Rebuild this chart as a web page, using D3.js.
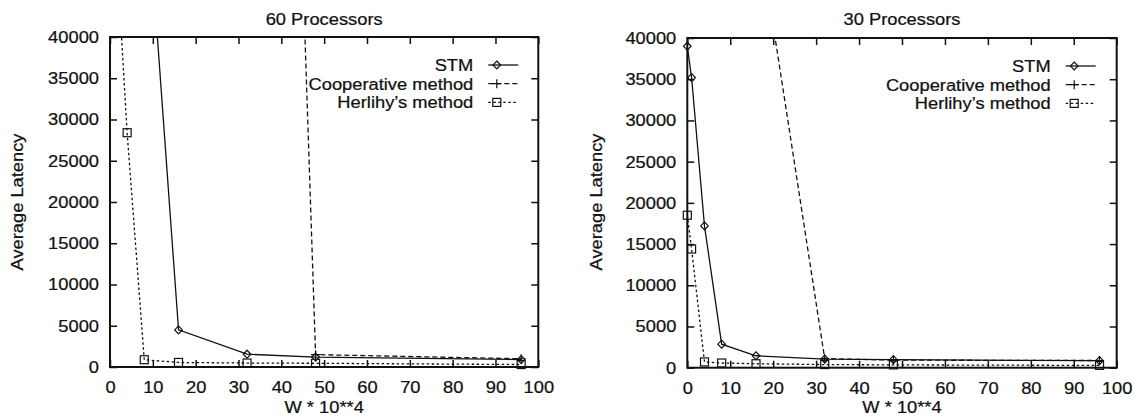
<!DOCTYPE html>
<html>
<head>
<meta charset="utf-8">
<script src="https://cdn.jsdelivr.net/npm/d3@7"></script>
<style>
  html, body { margin: 0; padding: 0; background: #fff; }
  svg text { font-family: "Liberation Sans", Arial, Helvetica, sans-serif; fill: #111; stroke: #111; stroke-width: 0.25; }
</style>
</head>
<body>
<svg id="chart" width="1134" height="418"></svg>
<script>
// x axis ticks / y axis ticks shared by both panels
const xTicks = [0, 10, 20, 30, 40, 50, 60, 70, 80, 90, 100];
const yTicks = [0, 5000, 10000, 15000, 20000, 25000, 30000, 35000, 40000];
const seriesNames = ['STM', 'Cooperative method', "Herlihy\u2019s method"];

// 60 processors (points above 40000 are off the chart, estimated from the slopes)
const stm60X = [8, 16, 32, 48, 96];
const stm60Y = [62000, 4500, 1550, 1200, 900];
const coop60X = [32, 48, 96];
const coop60Y = [250000, 1500, 1000];
const herl60X = [1, 4, 8, 16, 32, 48, 96];
const herl60Y = [55000, 28400, 880, 550, 480, 450, 300];

// 30 processors
const stm30X = [0, 1, 4, 8, 16, 32, 48, 96];
const stm30Y = [39000, 35200, 17200, 2850, 1450, 1050, 970, 850];
const coop30X = [16, 32, 48, 96];
const coop30Y = [55000, 1100, 920, 870];
const herl30X = [0, 1, 4, 8, 16, 32, 48, 96];
const herl30Y = [18500, 14400, 700, 570, 480, 380, 340, 280];

const FONT = 17;
const SX = 1.077; // scanned text is a bit wider than the font

const svg = d3.select('#chart');
svg.append('rect').attr('width', 1134).attr('height', 418).attr('fill', '#fff');

const zip = (xs, ys) => xs.map((x, i) => ({ x, y: ys[i] }));

const styles = [
  { dash: null, marker: 'diamond' },
  { dash: '5,3', marker: 'plus' },
  { dash: '2.5,2.5', marker: 'square' }
];

function label(g, txt, x, y, anchor, rotate) {
  return g.append('text')
    .attr('transform', `translate(${x},${y})${rotate ? ' rotate(-90)' : ''} scale(${SX},1)`)
    .attr('text-anchor', anchor)
    .attr('font-size', FONT)
    .text(txt);
}

function drawMarker(g, type, cx, cy) {
  if (type === 'diamond') {
    g.append('path')
      .attr('d', `M${cx},${cy - 4}L${cx + 3.8},${cy}L${cx},${cy + 4}L${cx - 3.8},${cy}Z`)
      .attr('fill', 'none').attr('stroke', '#111').attr('stroke-width', 1.2);
  } else if (type === 'square') {
    g.append('rect')
      .attr('x', cx - 4).attr('y', cy - 4).attr('width', 8).attr('height', 8)
      .attr('fill', 'none').attr('stroke', '#111').attr('stroke-width', 1.2);
  } else {
    g.append('path')
      .attr('d', `M${cx - 4.5},${cy}H${cx + 4.5}M${cx},${cy - 4.5}V${cy + 4.5}`)
      .attr('stroke', '#111').attr('stroke-width', 1.2);
  }
}

function drawPanel(p) {
  const g = svg.append('g');
  const x = d3.scaleLinear().domain([0, 100]).range([p.left, p.right]);
  const y = d3.scaleLinear().domain([0, 40000]).range([p.bottom, p.top]);

  const clipId = 'clip-' + p.id;
  svg.append('clipPath').attr('id', clipId)
    .append('rect')
    .attr('x', p.left).attr('y', p.top)
    .attr('width', p.right - p.left).attr('height', p.bottom - p.top);

  // inward ticks on all four sides, gnuplot style
  const tickLen = 7;
  const axB = d3.axisBottom(x).tickValues(xTicks).tickSize(-tickLen).tickPadding(14).tickFormat(d3.format('d'));
  const axT = d3.axisTop(x).tickValues(xTicks).tickSize(-tickLen).tickFormat('');
  const axL = d3.axisLeft(y).tickValues(yTicks).tickSize(-tickLen).tickPadding(11).tickFormat(d3.format('d'));
  const axR = d3.axisRight(y).tickValues(yTicks).tickSize(-tickLen).tickFormat('');

  [[axB, `translate(0,${p.bottom})`], [axT, `translate(0,${p.top})`],
   [axL, `translate(${p.left},0)`], [axR, `translate(${p.right},0)`]].forEach(([ax, tr]) => {
    const a = g.append('g').attr('transform', tr).call(ax);
    a.attr('font-family', null).attr('font-size', null);
    a.select('.domain').remove();
    a.selectAll('line').attr('stroke', '#111').attr('stroke-width', 1.5);
    a.selectAll('text')
      .attr('font-size', FONT).attr('fill', '#111')
      .attr('x', function () { return (+d3.select(this).attr('x') || 0) / SX; })
      .attr('transform', `scale(${SX},1)`);
  });

  // frame
  g.append('rect')
    .attr('x', p.left).attr('y', p.top)
    .attr('width', p.right - p.left).attr('height', p.bottom - p.top)
    .attr('fill', 'none').attr('stroke', '#111').attr('stroke-width', 2);

  const line = d3.line().x(d => x(d.x)).y(d => y(d.y));
  const plot = g.append('g').attr('clip-path', `url(#${clipId})`);

  p.series.forEach((s, i) => {
    plot.append('path')
      .datum(s)
      .attr('d', line)
      .attr('fill', 'none')
      .attr('stroke', '#111')
      .attr('stroke-width', 1.3)
      .attr('stroke-dasharray', styles[i].dash);
  });
  p.series.forEach((s, i) => {
    s.filter(d => d.y <= 40000).forEach(d => drawMarker(g, styles[i].marker, x(d.x), y(d.y)));
  });

  // legend
  seriesNames.forEach((name, i) => {
    const ly = p.legendY + i * 18.7;
    label(g, name, p.legendX, ly + 6, 'end');
    g.append('line')
      .attr('x1', p.legendX + 15).attr('x2', p.legendX + 45)
      .attr('y1', ly).attr('y2', ly)
      .attr('stroke', '#111').attr('stroke-width', 1.3)
      .attr('stroke-dasharray', styles[i].dash);
    drawMarker(g, styles[i].marker, p.legendX + 23.5, ly);
  });

  // titles
  const cx = (p.left + p.right) / 2;
  label(g, p.title, cx, 25, 'middle');
  label(g, 'W * 10**4', cx, 413, 'middle');
  label(g, 'Average Latency', p.ylabelX, 202, 'middle', true);
}

drawPanel({
  id: 'p60', title: '60 Processors',
  left: 110, right: 538.3, top: 37, bottom: 367,
  legendX: 473.3, legendY: 65, ylabelX: 22.5,
  series: [zip(stm60X, stm60Y), zip(coop60X, coop60Y), zip(herl60X, herl60Y)]
});

drawPanel({
  id: 'p30', title: '30 Processors',
  left: 687.3, right: 1116.7, top: 38, bottom: 367.7,
  legendX: 1050.7, legendY: 66, ylabelX: 602,
  series: [zip(stm30X, stm30Y), zip(coop30X, coop30Y), zip(herl30X, herl30Y)]
});
</script>
</body>
</html>
